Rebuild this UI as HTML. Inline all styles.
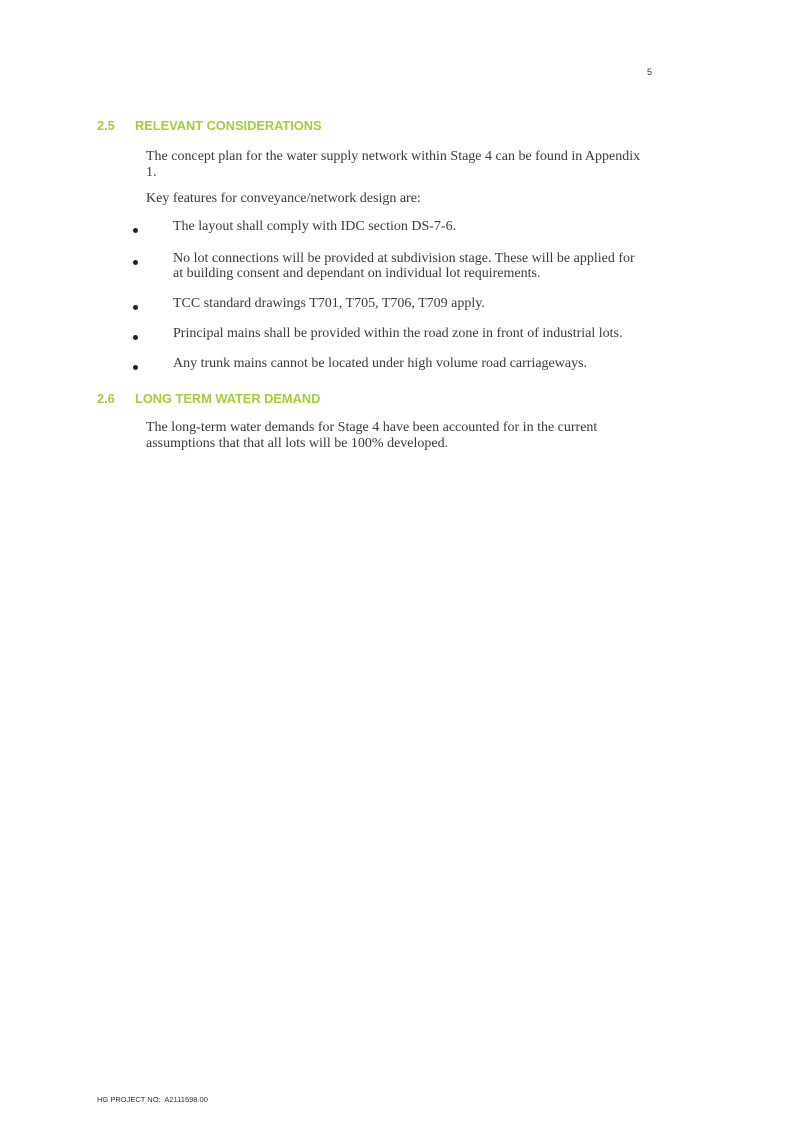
<!DOCTYPE html>
<html><head><style>
body{margin:0;width:807px;height:1140px;background:#fff;position:relative;font-family:"Liberation Serif",serif;color:#3a3a3a}
.a{position:absolute;white-space:nowrap}
.h{font-family:"Liberation Sans",sans-serif;font-weight:bold;color:#a6cc38;font-size:12.8px}
.t{font-size:14px;left:146px}
.b{position:absolute;left:133px;width:5px;height:5px;border-radius:50%;background:#222}
</style></head><body>
<div class="a" style="left:647px;top:67px;font-family:'Liberation Sans',sans-serif;font-size:9px">5</div>
<div class="a h" style="left:97px;top:118px">2.5</div>
<div class="a h" style="left:135px;top:118px">RELEVANT CONSIDERATIONS</div>
<div class="a t" style="top:149px">The concept plan for the water supply network within Stage 4 can be found in Appendix</div>
<div class="a t" style="top:165px">1.</div>
<div class="a t" style="top:191px">Key features for conveyance/network design are:</div>
<div class="b" style="top:228px"></div><div class="a t" style="left:173px;top:219px">The layout shall comply with IDC section DS-7-6.</div>
<div class="b" style="top:260px"></div><div class="a t" style="left:173px;top:251px">No lot connections will be provided at subdivision stage. These will be applied for</div>
<div class="a t" style="left:173px;top:266px">at building consent and dependant on individual lot requirements.</div>
<div class="b" style="top:305px"></div><div class="a t" style="left:173px;top:296px">TCC standard drawings T701, T705, T706, T709 apply.</div>
<div class="b" style="top:335px"></div><div class="a t" style="left:173px;top:326px">Principal mains shall be provided within the road zone in front of industrial lots.</div>
<div class="b" style="top:365px"></div><div class="a t" style="left:173px;top:356px">Any trunk mains cannot be located under high volume road carriageways.</div>
<div class="a h" style="left:97px;top:391px">2.6</div>
<div class="a h" style="left:135px;top:391px">LONG TERM WATER DEMAND</div>
<div class="a t" style="top:420px">The long-term water demands for Stage 4 have been accounted for in the current</div>
<div class="a t" style="top:436px">assumptions that that all lots will be 100% developed.</div>
<div class="a" style="left:97px;top:1095px;font-family:'Liberation Sans',sans-serif;font-size:7.5px;color:#333">HG PROJECT NO:&nbsp; A2111598.00</div>
</body></html>
